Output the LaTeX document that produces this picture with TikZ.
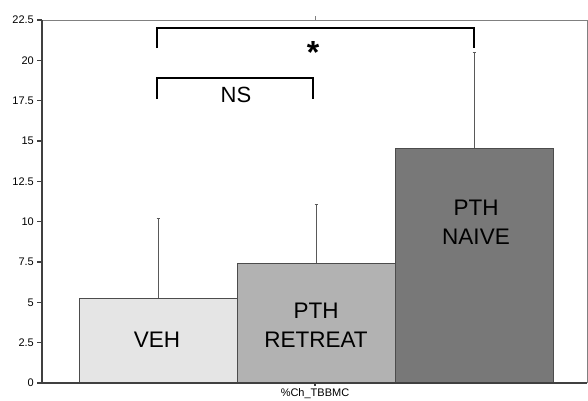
\documentclass[tikz,border=0pt]{standalone}
\usepackage{fontspec}
\setmainfont{Liberation Sans}
\begin{document}
\begin{tikzpicture}[x=1pt,y=1pt,
  axisline/.style={draw=black!75,line width=1.1pt},
  frameline/.style={draw=black!50,line width=0.8pt},
  barbox/.style={draw=black!70,line width=0.8pt},
  errline/.style={draw=black!65,line width=0.7pt},
  bracket/.style={draw=black,line width=1.8pt},
  ticklbl/.style={anchor=east,font=\fontsize{11}{12}\selectfont,inner sep=0pt},
  barlbl/.style={align=center,font=\fontsize{22.5}{29}\selectfont,inner sep=0pt},
]
\useasboundingbox (0,0) rectangle (588,400);
\fill[white] (0,0) rectangle (588,400);
\begin{scope}[shift={(0,17)},y=16.133pt]
  % bars
  \path[barbox,fill=black!10] (79,0) rectangle (237,5.27);
  \path[barbox,fill=black!30] (237,0) rectangle (395,7.44);
  \path[barbox,fill=black!53] (395,0) rectangle (553,14.57);
  % error bars
  \coordinate (e1b) at (158,5.27); \coordinate (e1t) at (158,10.23);
  \coordinate (e2b) at (316,7.44); \coordinate (e2t) at (316,11.1);
  \coordinate (e3b) at (474,14.57); \coordinate (e3t) at (474,20.5);
  \draw[errline] (e1b) -- (e1t) ++(-1.5,0) -- ++(3,0);
  \draw[errline] (e2b) -- (e2t) ++(-1.5,0) -- ++(3,0);
  \draw[errline] (e3b) -- (e3t) ++(-1.5,0) -- ++(3,0);
  % frame
  \draw[frameline] (42,22.5) -- (587,22.5) -- (587,0);
  \draw[frameline] (315,22.5) -- (315,22.75);
  \draw[axisline] (42,22.5) -- (42,0) -- (587,0);
  \draw[axisline] (315,0) -- (315,-0.2);
  % y ticks
  \foreach \v/\t in {0/0,2.5/2.5,5/5,7.5/7.5,10/10,12.5/12.5,15/15,17.5/17.5,20/20,22.5/22.5}{
    \draw[axisline] (37,\v) -- (42,\v);
    \node[ticklbl] (tk\v) at (34,\v) {\t};
  }
  % brackets
  \coordinate (sA) at (157,20.75); \coordinate (sB) at (474,20.75);
  \draw[bracket] (sA) -- (157,22.0) -- (474,22.0) -- (sB);
  \coordinate (nA) at (157,17.6); \coordinate (nB) at (313,17.6);
  \draw[bracket] (nA) -- (157,18.9) -- (313,18.9) -- (nB);
  \node[font=\bfseries\fontsize{32}{32}\selectfont,inner sep=0pt] (star) at (313,20.5) {*};
  \node[font=\fontsize{22}{26}\selectfont,inner sep=0pt] (ns) at (236,17.85) {NS};
  % bar labels
  \node[barlbl] (veh) at (157,2.67) {VEH};
  \node[barlbl] (ret) at (316,3.55) {PTH\\RETREAT};
  \node[barlbl] (nai) at (476,9.95) {PTH\\NAIVE};
  \node[font=\fontsize{11}{12}\selectfont,inner sep=0pt] (xl) at (315,-0.68) {\%Ch\_TBBMC};
\end{scope}
\end{tikzpicture}
\end{document}
